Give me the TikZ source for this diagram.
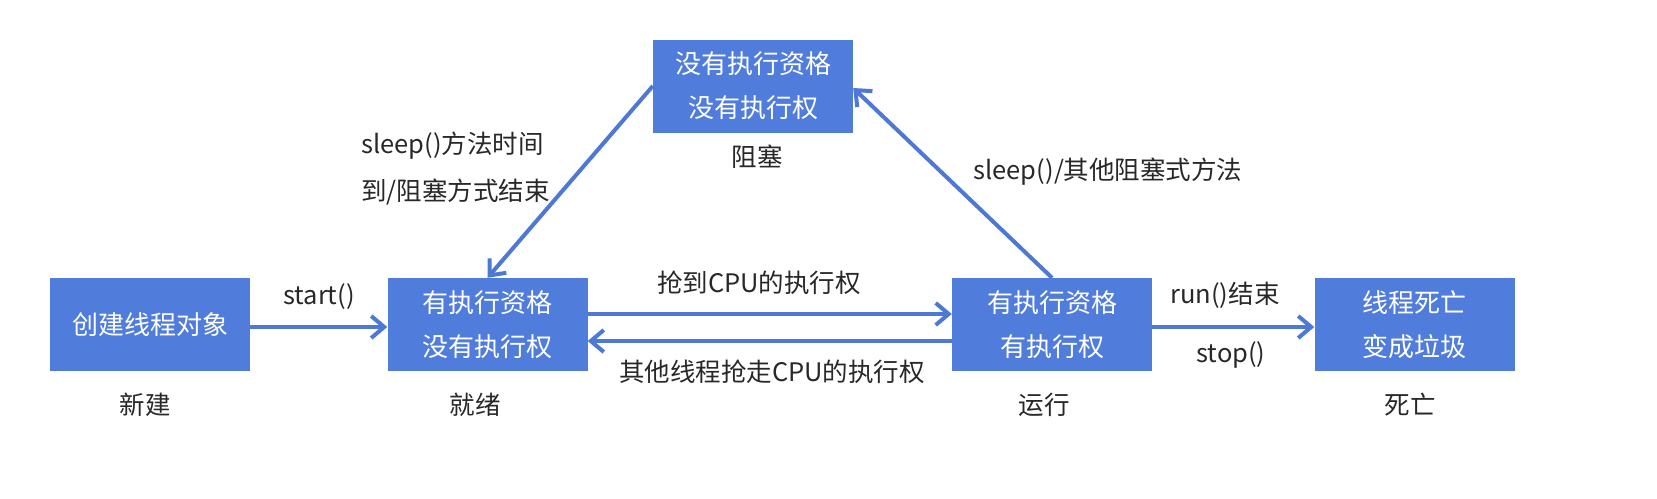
\documentclass[tikz,border=0pt]{standalone}
\usepackage{fontspec}
\setmainfont{Noto Sans CJK SC}
\usetikzlibrary{arrows.meta}
\definecolor{boxblue}{RGB}{80,124,220}
\definecolor{arrblue}{RGB}{77,120,214}
\definecolor{txt}{RGB}{40,40,40}
\begin{document}
\begin{tikzpicture}[x=1pt,y=-1pt,
  state/.style={rectangle, fill=boxblue, text=white, minimum width=200pt, minimum height=93pt,
    inner sep=0pt, align=center, font=\fontsize{26}{44}\selectfont},
  lbl/.style={text=txt, inner sep=0pt, font=\fontsize{25.5}{46}\selectfont},
  arr/.style={draw=arrblue, line width=4pt, -{Straight Barb[length=13pt,width=22pt,line width=4pt]}}]
\useasboundingbox (0,0) rectangle (1657,498);
\fill[white] (0,0) rectangle (1657,498);
\node[state] (new) at (150,324.5) {创建线程对象};
\node[state] (ready) at (487.5,324.5) {有执行资格\\没有执行权};
\node[state] (run) at (1052,324.5) {有执行资格\\有执行权};
\node[state] (dead) at (1414.5,324.5) {线程死亡\\变成垃圾};
\node[state] (block) at (753,86) {没有执行资格\\没有执行权};
\node[lbl] (lnew) at (145,405) {新建};
\node[lbl] (lready) at (475,405) {就绪};
\node[lbl] (lrun) at (1044,405) {运行};
\node[lbl] (ldead) at (1410,405) {死亡};
\node[lbl] (lblock) at (757,157) {阻塞};
\node[lbl] (lstart) at (319,297) {start()};
\node[lbl] (lgrab) at (759,283) {抢到CPU的执行权};
\node[lbl] (llose) at (772,372) {其他线程抢走CPU的执行权};
\node[lbl] (lend) at (1225,295) {run()结束};
\node[lbl] (lstop) at (1231,355) {stop()};
\node[lbl, anchor=west] (lwake1) at (361,146) {sleep()方法时间};
\node[lbl, anchor=west] (lwake2) at (361,192) {到/阻塞方式结束};
\node[lbl] (lsleep) at (1108,172) {sleep()/其他阻塞式方法};
\draw[arr] ([yshift=-2.5pt]new.east) -- ([yshift=-2.5pt]ready.west);
\draw[arr] ([yshift=10.5pt]ready.east) -- ([yshift=10.5pt]run.west);
\draw[arr] ([yshift=-16.5pt]run.west) -- ([yshift=-16.5pt]ready.east);
\draw[arr] ([yshift=-2.5pt]run.east) -- ([yshift=-2.5pt]dead.west);
\draw[arr] (run.north) -- ([yshift=-2pt]block.east);
\draw[arr] (block.west) -- (ready.north);
\end{tikzpicture}
\end{document}
